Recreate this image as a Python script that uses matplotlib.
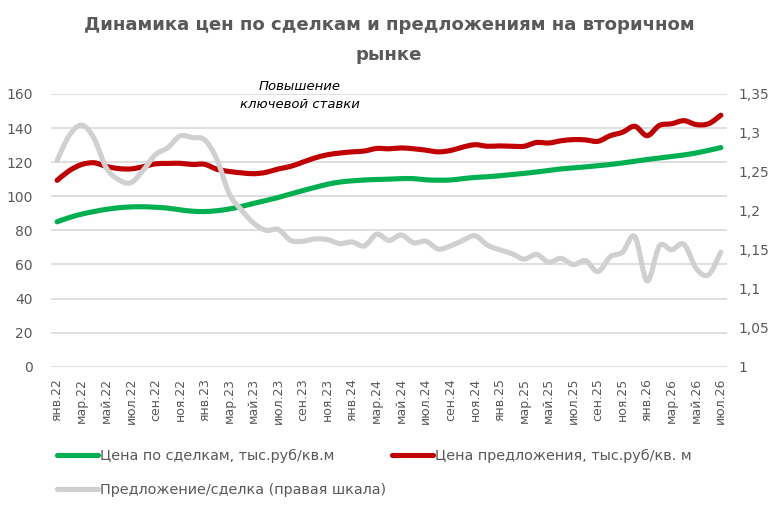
import matplotlib
matplotlib.use("Agg")
import matplotlib.pyplot as plt
import numpy as np
from matplotlib.path import Path
from matplotlib.patches import PathPatch
from matplotlib.lines import Line2D

# ---------------- data ----------------
month_names = ['янв', 'фев', 'мар', 'апр', 'май', 'июн', 'июл', 'авг', 'сен', 'окт', 'ноя', 'дек']
years = ['22', '23', '24', '25', '26']
categories = [f"{m}.{y}" for y in years for m in month_names][:55]  # янв.22 .. июл.26

deal_price = [85, 87.5, 89.5, 91, 92.3, 93.2, 93.7, 93.8, 93.5, 93, 92, 91.2,
              91, 91.5, 92.5, 94, 95.8, 97.5, 99.3, 101.3, 103.3, 105.2, 107, 108.3,
              109, 109.5, 109.8, 110, 110.3, 110.3, 109.6, 109.4, 109.5, 110.3, 111, 111.4,
              112, 112.7, 113.4, 114.2, 115.1, 116, 116.6, 117.2, 117.9, 118.6, 119.5, 120.5,
              121.5, 122.4, 123.3, 124.2, 125.4, 126.9, 128.5]

offer_price = [109.3, 115, 118.6, 119.6, 117.5, 116.2, 116, 117.3, 119, 119.2, 119.3, 118.6,
               118.7, 115.8, 114.5, 113.7, 113.2, 114, 116, 117.5, 120, 122.5, 124.3, 125.3,
               126, 126.5, 128, 127.8, 128.3, 127.8, 127, 126, 126.8, 128.8, 130.2, 129.3,
               129.5, 129.3, 129.3, 131.5, 131.2, 132.5, 133.2, 133, 132.2, 135.5, 137.5, 141,
               135.5, 141.5, 142.5, 144.3, 142, 142.5, 147.5]

ratio = [1.265, 1.297, 1.310, 1.293, 1.255, 1.240, 1.236, 1.252, 1.272, 1.281, 1.296, 1.294,
         1.291, 1.266, 1.222, 1.201, 1.184, 1.175, 1.176, 1.162, 1.161, 1.164, 1.163, 1.158,
         1.160, 1.155, 1.170, 1.162, 1.169, 1.159, 1.161, 1.151, 1.155, 1.162, 1.168, 1.156,
         1.150, 1.145, 1.138, 1.144, 1.134, 1.139, 1.131, 1.136, 1.122, 1.141, 1.147, 1.167,
         1.110, 1.155, 1.150, 1.157, 1.126, 1.118, 1.147]

left_ticks = [0, 20, 40, 60, 80, 100, 120, 140, 160]
right_ticks = [1.0, 1.05, 1.1, 1.15, 1.2, 1.25, 1.3, 1.35]
right_tick_labels = ['1', '1,05', '1,1', '1,15', '1,2', '1,25', '1,3', '1,35']

series_names = ['Цена по сделкам, тыс.руб/кв.м',
                'Цена предложения, тыс.руб/кв. м',
                'Предложение/сделка (правая шкала)']
title_line1 = 'Динамика цен по сделкам и предложениям на вторичном'
title_line2 = 'рынке'
annotation_lines = ['Повышение', 'ключевой ставки']

# ---------------- style ----------------
GREEN = '#00B050'
RED = '#C00000'
GRAY = '#D0D0D0'
TXT = '#595959'
GRID = '#D9D9D9'
LW = 3.7

W, H = 778, 508
fig = plt.figure(figsize=(W / 100, H / 100), dpi=100)
fig.patch.set_facecolor('white')

ax_left, ax_right, ax_top, ax_bot = 51, 727, 93.9, 366.7
ax = fig.add_axes([ax_left / W, 1 - ax_bot / H, (ax_right - ax_left) / W, (ax_bot - ax_top) / H])
ax2 = ax.twinx()


def smooth_path(xs, ys):
    pts = np.column_stack([xs, ys]).astype(float)
    n = len(pts)
    verts = [pts[0]]
    codes = [Path.MOVETO]
    for i in range(n - 1):
        p0 = pts[i - 1] if i > 0 else pts[i]
        p1 = pts[i]
        p2 = pts[i + 1]
        p3 = pts[i + 2] if i + 2 < n else pts[i + 1]
        c1 = p1 + (p2 - p0) / 6.0
        c2 = p2 - (p3 - p1) / 6.0
        verts += [c1, c2, p2]
        codes += [Path.CURVE4] * 3
    return Path(verts, codes)


x = np.arange(len(categories))
for axis, data, col in [(ax, deal_price, GREEN), (ax, offer_price, RED), (ax2, ratio, GRAY)]:
    patch = PathPatch(smooth_path(x, data), fill=False, edgecolor=col, lw=LW,
                      capstyle='round', joinstyle='round')
    axis.add_patch(patch)

ax.set_xlim(-0.5, len(categories) - 0.5)
ax.set_ylim(0, 160)
ax2.set_ylim(1.0, 1.35)

ax.set_yticks(left_ticks)
ax.set_yticklabels([str(v) for v in left_ticks])
ax2.set_yticks(right_ticks)
ax2.set_yticklabels(right_tick_labels)

ax.set_xticks(x[::2])
ax.set_xticklabels(categories[::2], rotation=90)

ax.yaxis.grid(True, color=GRID, lw=1.2)
ax.set_axisbelow(True)
for a in (ax, ax2):
    for s in a.spines.values():
        s.set_visible(False)

ax.tick_params(axis='y', length=0, pad=13, labelsize=10, labelcolor=TXT)
ax2.tick_params(axis='y', length=0, pad=8, labelsize=10, labelcolor=TXT)
ax.tick_params(axis='x', length=0, pad=8, labelsize=9, labelcolor=TXT)
for lab in ax.get_xticklabels():
    lab.set_va('top')

# title
fig.text(0.5, 1 - 25 / H, title_line1, ha='center', va='center', fontsize=13.1,
         fontweight='bold', color=TXT)
fig.text(0.5, 1 - 55 / H, title_line2, ha='center', va='center', fontsize=13.1,
         fontweight='bold', color=TXT)

# annotation
fig.text(300 / W, 1 - 86 / H, annotation_lines[0], ha='center', va='center', fontsize=9.5,
         style='italic', color='black')
fig.text(300 / W, 1 - 105 / H, annotation_lines[1], ha='center', va='center', fontsize=9.5,
         style='italic', color='black')

# legend
handles = [Line2D([], [], color=GREEN, lw=LW, solid_capstyle='round'),
           Line2D([], [], color=GRAY, lw=LW, solid_capstyle='round'),
           Line2D([], [], color=RED, lw=LW, solid_capstyle='round')]
labels = [series_names[0], series_names[2], series_names[1]]
fig.legend(handles, labels, loc='upper left', bbox_to_anchor=(57 / W, 1 - 449 / H),
           ncol=2, frameon=False, fontsize=10.4, handlelength=2.85, handletextpad=0.15,
           columnspacing=0.35, labelspacing=1.38, borderpad=0, borderaxespad=0,
           labelcolor=TXT)

fig.savefig('out.png', dpi=100, facecolor='white')
